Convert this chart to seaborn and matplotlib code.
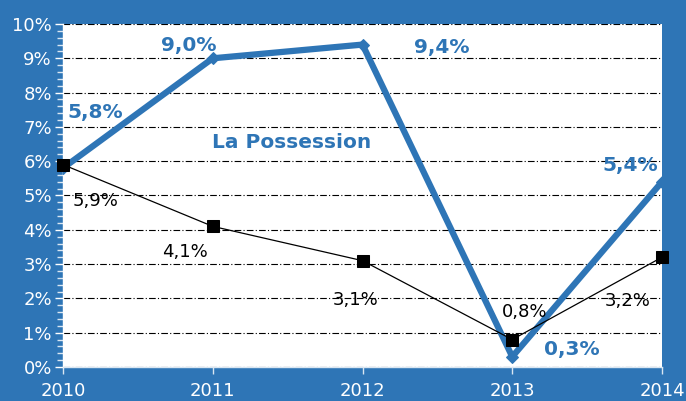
import matplotlib
matplotlib.use("Agg")
import matplotlib.pyplot as plt
import seaborn as sns
import pandas as pd
from matplotlib.ticker import MultipleLocator, FuncFormatter

years = [2010, 2011, 2012, 2013, 2014]
possession = [5.8, 9.0, 9.4, 0.3, 5.4]
reference = [5.9, 4.1, 3.1, 0.8, 3.2]
possession_labels = ["5,8%", "9,0%", "9,4%", "0,3%", "5,4%"]
reference_labels = ["5,9%", "4,1%", "3,1%", "0,8%", "3,2%"]
title_text = "La Possession"

BLUE = "#2E75B6"

sns.set_theme(style="white")
plt.rcParams['font.family'] = ['DejaVu Sans']

df = pd.DataFrame({"year": years, "possession": possession, "reference": reference})

fig = plt.figure(figsize=(6.86, 4.01), dpi=100, facecolor=BLUE)
ax = fig.add_axes([63/686, 1-367/401, (662-63)/686, (367-24)/401])
ax.set_facecolor("white")

sns.lineplot(data=df, x="year", y="possession", ax=ax, color=BLUE, linewidth=4.5,
             marker="D", markersize=6, markeredgecolor=BLUE, zorder=3)
sns.lineplot(data=df, x="year", y="reference", ax=ax, color="black", linewidth=0.9,
             marker="s", markersize=8, markeredgecolor="black", zorder=4, clip_on=False)

ax.set_xlim(2010, 2014)
ax.set_ylim(0, 10)
ax.set_xticks(years)
ax.set_yticks(range(0, 11))
ax.yaxis.set_major_formatter(FuncFormatter(lambda v, p: f"{int(v)}%"))
ax.yaxis.set_minor_locator(MultipleLocator(0.2))
ax.set_xlabel("")
ax.set_ylabel("")

ax.grid(axis="y", which="major", color="black", linestyle=(0, (6, 2, 1, 2)), linewidth=0.8)
ax.set_axisbelow(True)

for s in ["top", "right"]:
    ax.spines[s].set_visible(False)
ax.spines["left"].set_color("white")
ax.spines["bottom"].set_color("#D9E6F2")
ax.spines["left"].set_linewidth(1)
ax.spines["bottom"].set_linewidth(1)

ax.tick_params(axis="y", which="major", colors="white", labelcolor="white", labelsize=13,
               length=6, width=1, direction="out", left=True, pad=2)
ax.tick_params(axis="y", which="minor", colors="#D9E6F2", length=4, width=1, direction="out", left=True)
ax.tick_params(axis="x", which="major", colors="#D9E6F2", labelcolor="white", labelsize=13,
               length=5, width=1, direction="out", bottom=True, pad=6)

px = 0.72
poss_off = [(32, 56), (-24, 13), (79, -3), (60, 7), (-32, 16)]
ref_off = [(33, -36), (-28, -26), (-7, -39), (12, 28), (-34, -44)]

for x, y, lab, (dx, dy) in zip(years, possession, possession_labels, poss_off):
    ax.annotate(lab, (x, y), xytext=(dx*px, dy*px), textcoords="offset points",
                ha="center", va="center", color=BLUE, fontsize=14.5, fontweight="bold",
                annotation_clip=False, zorder=6)
for x, y, lab, (dx, dy) in zip(years, reference, reference_labels, ref_off):
    ax.annotate(lab, (x, y), xytext=(dx*px, dy*px), textcoords="offset points",
                ha="center", va="center", color="black", fontsize=13,
                annotation_clip=False, zorder=6)

ax.text((292-63)/(662-63), 1-(143-24)/(367-24), title_text, transform=ax.transAxes,
        ha="center", va="center", color=BLUE, fontsize=14.5, fontweight="bold")

fig.savefig("out.png", dpi=100, facecolor=BLUE)
